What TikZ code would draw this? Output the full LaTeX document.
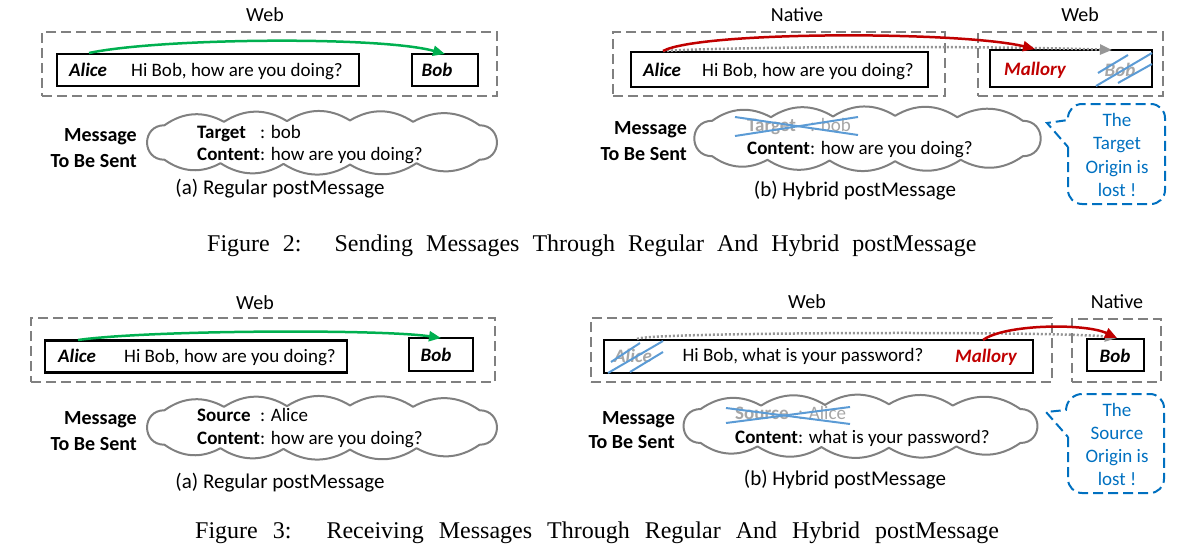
\documentclass[tikz,border=0pt]{standalone}
\usepackage{fontspec}
\setmainfont{Carlito}
\newfontfamily\capfont{Liberation Serif}
\usepackage{calc}
\usetikzlibrary{arrows.meta}
\definecolor{frameg}{RGB}{128,128,128}
\definecolor{cloudg}{RGB}{128,128,128}
\definecolor{greenc}{RGB}{0,176,80}
\definecolor{redc}{RGB}{192,0,0}
\definecolor{dotg}{RGB}{150,150,150}
\definecolor{slashb}{RGB}{91,155,213}
\definecolor{callb}{RGB}{0,112,192}
\definecolor{greyt}{RGB}{166,166,166}
\newcommand{\ckey}[1]{\makebox[\widthof{\bfseries Content}][l]{\bfseries #1}}
% cloud: centre x, centre y, width, height
\newcommand{\mycloud}[4]{%
\draw[cloudline] ({#1-0.45*#3},{#2-0.25*#4}) to[bend left=32] ({#1-0.28*#3},{#2-0.30*#4})
  to[bend left=32] ({#1-0.10*#3},{#2-0.31*#4}) to[bend left=32] ({#1+0.08*#3},{#2-0.32*#4})
  to[bend left=32] ({#1+0.26*#3},{#2-0.30*#4}) to[bend left=32] ({#1+0.45*#3},{#2-0.25*#4})
  to[bend left=90, looseness=1.73] ({#1+0.45*#3},{#2+0.25*#4})
  to[bend left=32] ({#1+0.27*#3},{#2+0.30*#4}) to[bend left=32] ({#1+0.08*#3},{#2+0.32*#4})
  to[bend left=32] ({#1-0.11*#3},{#2+0.31*#4}) to[bend left=32] ({#1-0.29*#3},{#2+0.30*#4})
  to[bend left=32] ({#1-0.45*#3},{#2+0.25*#4})
  to[bend left=90, looseness=1.73] ({#1-0.45*#3},{#2-0.25*#4}) -- cycle;}
\begin{document}
\begin{tikzpicture}[x=1pt,y=-1pt,
  frame/.style={draw=frameg, line width=2pt, dash pattern=on 10pt off 5pt, inner sep=0, outer sep=0},
  mbox/.style={draw=black, line width=2.5pt, inner sep=0, outer sep=0},
  txt/.style={inner sep=0, text height=16.2pt, text depth=4pt, font=\fontsize{19}{23}\selectfont},
  who/.style={txt, font=\fontsize{19}{23}\selectfont\bfseries\itshape},
  lbl/.style={txt, font=\fontsize{20}{24}\selectfont},
  side/.style={txt, anchor=east, font=\fontsize{20}{24}\selectfont\bfseries},
  sub/.style={txt, font=\fontsize{21}{25}\selectfont},
  ctx/.style={txt, anchor=west},
  cloudline/.style={draw=cloudg, line width=2pt, line join=round},
  tip/.style={-{Triangle[length=12pt,width=10pt]}},
  garrow/.style={draw=greenc, line width=2.5pt, tip},
  rarrow/.style={draw=redc, line width=2.5pt, tip},
  darrow/.style={draw=dotg, line width=2.5pt, dash pattern=on 2pt off 2pt, tip},
  slash/.style={draw=slashb, line width=2pt},
  callout/.style={draw=callb, line width=2pt, dash pattern=on 10pt off 5pt},
  ctext/.style={inner sep=0, align=center, text=callb, font=\fontsize{19}{23.3}\selectfont},
  fcap/.style={inner sep=0, anchor=base west, font=\fontsize{24}{28}\capfont}
]
\useasboundingbox (0,0) rectangle (1192,554);

% ================= Figure 2 (a) =================
\node[lbl] (web2a) at (265,15) {Web};
\node[frame, minimum width=455, minimum height=64] (f2a) at (269.5,64) {};
\node[mbox, minimum width=302, minimum height=32] (a2a) at (208,70) {};
\node[mbox, minimum width=66, minimum height=32] (b2a) at (445,70) {};
\node[who] (a2at) at (88,70) {Alice};
\node[txt] (m2at) at (237,70) {Hi Bob, how are you doing?};
\node[who] (b2at) at (437,70) {Bob};
\coordinate (s2a) at (89,53);
\draw[garrow] (s2a) .. controls (160,38) and (380,36) .. (b2a.north);
\mycloud{322}{142.5}{350}{69}
\node[ctx] (t2a) at (197,132) {\ckey{Target}: bob};
\node[ctx] (k2a) at (197,154) {\textbf{Content}: how are you doing?};
\node[side] (ms2a) at (137,135) {Message};
\node[side] (tb2a) at (137,161) {To Be Sent};
\node[sub] (cap2a) at (280,188) {(a) Regular postMessage};

% ================= Figure 2 (b) =================
\node[lbl] (nat2b) at (797,15) {Native};
\node[lbl] (web2b) at (1080,15) {Web};
\node[frame, minimum width=332, minimum height=64] (fn2b) at (779,64) {};
\node[frame, minimum width=185, minimum height=64] (fw2b) at (1070.5,64) {};
\node[mbox, minimum width=297, minimum height=35] (a2b) at (779.5,69.5) {};
\node[mbox, minimum width=162, minimum height=37] (m2b) at (1071,68.5) {};
\node[who] (a2bt) at (662,70) {Alice};
\node[txt] (h2bt) at (808,70) {Hi Bob, how are you doing?};
\node[who, text=redc] (m2bt) at (1035,69) {Mallory};
\node[who, text=greyt] (b2bt) at (1120,70) {Bob};
\draw[slash] (1098,73) -- (1128,55);
\draw[slash] (1096,86) -- (1152,53);
\draw[slash] (1118,83) -- (1152,64);
\coordinate (s2b) at (663,51);
\coordinate (r2b) at (1035,49);
\coordinate (d2b) at (1112,50);
\draw[darrow] (s2b) .. controls (750,46) and (1000,46) .. (d2b);
\draw[rarrow] (s2b) .. controls (700,31) and (960,31) .. (r2b);
\mycloud{867.5}{138.5}{345}{71}
\node[ctx, text=greyt] (t2b) at (747,125) {\ckey{Target}: bob};
\draw[slash] (735,136) -- (858,117);
\draw[slash] (735,117) -- (858,135);
\node[ctx] (k2b) at (747,148) {\textbf{Content}: how are you doing?};
\node[side] (ms2b) at (687,128) {Message};
\node[side] (tb2b) at (687,154) {To Be Sent};
\node[sub] (cap2b) at (855,190) {(b) Hybrid postMessage};
\draw[callout] (1068,147) [rounded corners=14pt] -- (1068,204) -- (1165,204) -- (1165,104) -- (1068,104) [sharp corners] -- (1068,120) -- (1047,123) -- cycle;
\node[ctext] (co2b) at (1117,155) {The\\Target\\Origin is\\lost !};

% Figure 2 caption
\node[fcap] (fig2) at (207,251) {Figure\hspace{13pt}2:\hspace{33pt}Sending\hspace{13pt}Messages\hspace{13pt}Through\hspace{13pt}Regular\hspace{13pt}And\hspace{13pt}Hybrid\hspace{13pt}postMessage};

% ================= Figure 3 (a) =================
\node[lbl] (web3a) at (255,303) {Web};
\node[frame, minimum width=464, minimum height=64] (f3a) at (263,350) {};
\node[mbox, minimum width=302, minimum height=32] (a3a) at (196,356.5) {};
\node[mbox, minimum width=64, minimum height=33] (b3a) at (441,354.5) {};
\node[who] (a3at) at (77,356) {Alice};
\node[txt] (m3at) at (230,356) {Hi Bob, how are you doing?};
\node[who] (b3at) at (436,355) {Bob};
\coordinate (s3a) at (78,340);
\draw[garrow] (s3a) .. controls (150,330) and (380,329) .. (b3a.north);
\mycloud{322}{427.5}{350}{69}
\node[ctx] (t3a) at (197,415) {\ckey{Source}: Alice};
\node[ctx] (k3a) at (197,438) {\textbf{Content}: how are you doing?};
\node[side] (ms3a) at (137,418) {Message};
\node[side] (tb3a) at (137,444) {To Be Sent};
\node[sub] (cap3a) at (280,482) {(a) Regular postMessage};

% ================= Figure 3 (b) =================
\node[lbl] (web3b) at (807,302) {Web};
\node[lbl] (nat3b) at (1117,302) {Native};
\node[frame, minimum width=461, minimum height=64] (fw3b) at (821.5,350) {};
\node[frame, minimum width=89, minimum height=63] (fn3b) at (1116.5,350.5) {};
\node[mbox, minimum width=429, minimum height=33] (a3b) at (818.5,356.5) {};
\node[mbox, minimum width=57, minimum height=32] (b3b) at (1115.5,355) {};
\node[who, text=greyt] (a3bt) at (633,356) {Alice};
\node[txt] (h3bt) at (803,355) {Hi Bob, what is your password?};
\node[who, text=redc] (m3bt) at (986,356) {Mallory};
\node[who] (b3bt) at (1115,356) {Bob};
\draw[slash] (611,362) -- (640,343);
\draw[slash] (608,373) -- (663,341);
\draw[slash] (630,372) -- (663,352);
\coordinate (s3b) at (637,339);
\coordinate (r3b) at (983,340);
\coordinate (e3b) at (1117,338);
\draw[darrow] (s3b) .. controls (645,332) and (1060,331) .. (e3b);
\draw[rarrow] (r3b) .. controls (1005,324) and (1085,323) .. (e3b);
\mycloud{860.5}{426}{355}{68}
\node[ctx, text=greyt] (t3b) at (735,413) {\ckey{Source}: Alice};
\draw[slash] (726,408) -- (850,424);
\draw[slash] (726,423) -- (850,407);
\node[ctx] (k3b) at (735,437) {\textbf{Content}: what is your password?};
\node[side] (ms3b) at (675,418) {Message};
\node[side] (tb3b) at (675,442) {To Be Sent};
\node[sub] (cap3b) at (845,479) {(b) Hybrid postMessage};
\draw[callout] (1068,437) [rounded corners=14pt] -- (1068,493) -- (1164,493) -- (1164,394) -- (1068,394) [sharp corners] -- (1066,410) -- (1046,412) -- cycle;
\node[ctext] (co3b) at (1117,444.5) {The\\Source\\Origin is\\lost !};

% Figure 3 caption
\node[fcap] (fig3) at (195,538) {Figure\hspace{15pt}3:\hspace{35pt}Receiving\hspace{15pt}Messages\hspace{15pt}Through\hspace{15pt}Regular\hspace{15pt}And\hspace{15pt}Hybrid\hspace{15pt}postMessage};
\end{tikzpicture}
\end{document}
